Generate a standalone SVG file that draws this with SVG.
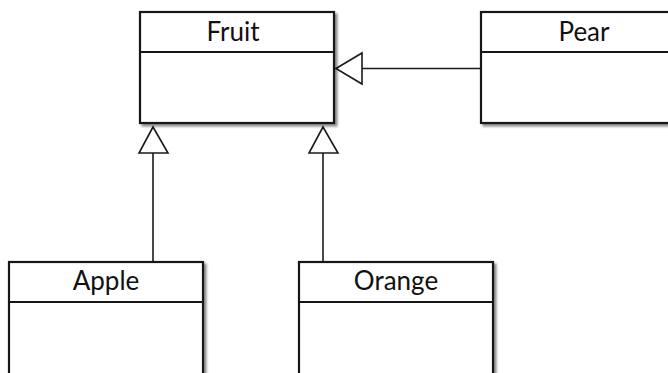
<svg xmlns="http://www.w3.org/2000/svg" width="668" height="373" viewBox="0 0 668 373">
  <style>
    .box { fill: #ffffff; stroke: #161616; stroke-width: 2.2; }
    .sep { stroke: #161616; stroke-width: 2; }
    .name { font-family: "Lato", "Liberation Sans", sans-serif; font-size: 26px; fill: #111111; text-anchor: middle; }
    .link { stroke: #1a1a1a; stroke-width: 1.6; fill: none; }
    .head { fill: #ffffff; stroke: #1a1a1a; stroke-width: 1.6; stroke-linejoin: miter; }
  </style>
  <defs>
    <filter id="shadow" x="-5%" y="-5%" width="115%" height="115%">
      <feDropShadow dx="2.5" dy="2.5" stdDeviation="1.2" flood-color="#000" flood-opacity="0.45"/>
    </filter>
  </defs>

  <rect width="668" height="373" fill="#ffffff"/>

  <!-- generalization connectors with hollow triangle heads -->
  <g id="connectors">
    <line class="link" x1="153" y1="153" x2="153" y2="262"/>
    <polygon class="head" points="153,127 139,153 168,153"/>
    <line class="link" x1="323" y1="153" x2="323" y2="262"/>
    <polygon class="head" points="323,127 309,153 338,153"/>
    <line class="link" x1="362" y1="68.5" x2="481" y2="68.5"/>
    <polygon class="head" points="336,68.5 362,53 362,84"/>
  </g>

  <g id="fruit">
    <rect class="box" x="140" y="12" width="194" height="111" filter="url(#shadow)"/>
    <line class="sep" x1="140" y1="52" x2="334" y2="52"/>
    <text class="name" x="233" y="41">Fruit</text>
  </g>

  <g id="pear">
    <rect class="box" x="481" y="12" width="210" height="111" filter="url(#shadow)"/>
    <line class="sep" x1="481" y1="52" x2="691" y2="52"/>
    <text class="name" x="584" y="41">Pear</text>
  </g>

  <g id="apple">
    <rect class="box" x="9" y="262" width="194" height="130" filter="url(#shadow)"/>
    <line class="sep" x1="9" y1="302" x2="203" y2="302"/>
    <text class="name" x="106" y="290">Apple</text>
  </g>

  <g id="orange">
    <rect class="box" x="299" y="262" width="194" height="130" filter="url(#shadow)"/>
    <line class="sep" x1="299" y1="302" x2="493" y2="302"/>
    <text class="name" x="396" y="290">Orange</text>
  </g>
</svg>
